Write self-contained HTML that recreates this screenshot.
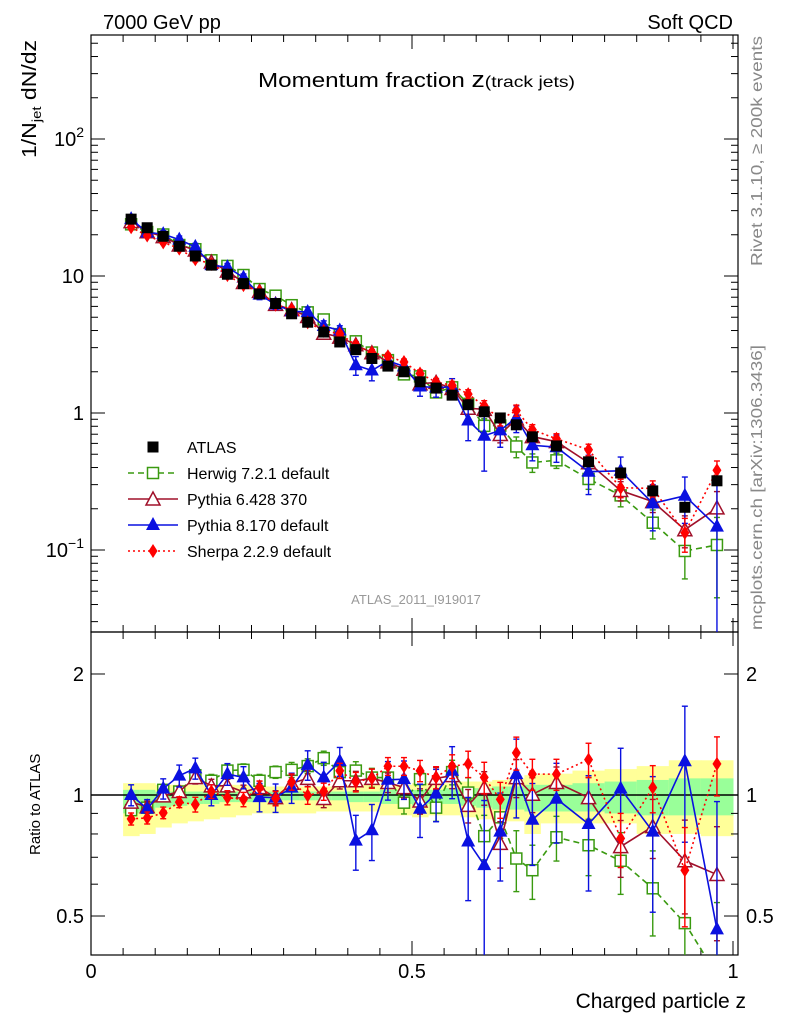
<!DOCTYPE html>
<html><head><meta charset="utf-8"><style>
html,body{margin:0;padding:0;background:#fff;width:786px;height:1024px;overflow:hidden}
svg{display:block;font-family:"Liberation Sans",sans-serif}
</style></head><body>
<svg id="c" width="786" height="1024" viewBox="0 0 786 1024" xmlns="http://www.w3.org/2000/svg">
<text x="103" y="29" font-size="20">7000 GeV pp</text>
<text x="733" y="29" font-size="20" text-anchor="end">Soft QCD</text>
<text x="258" y="87" font-size="20" textLength="317" lengthAdjust="spacingAndGlyphs">Momentum fraction <tspan font-size="22">z</tspan><tspan font-size="16">(track jets)</tspan></text>
<text transform="translate(36,158) rotate(-90)" font-size="20" textLength="118" lengthAdjust="spacingAndGlyphs">1/N<tspan font-size="13" dy="5">jet</tspan><tspan dy="-5"> dN/dz</tspan></text>
<text transform="translate(40,855) rotate(-90)" font-size="15">Ratio to ATLAS</text>
<text x="746" y="1008" font-size="21" text-anchor="end">Charged particle z</text>
<text transform="translate(762,266) rotate(-90)" font-size="16" fill="#888" textLength="230" lengthAdjust="spacingAndGlyphs">Rivet 3.1.10, ≥ 200k events</text>
<text transform="translate(762,630) rotate(-90)" font-size="16" fill="#888" textLength="285" lengthAdjust="spacingAndGlyphs">mcplots.cern.ch [arXiv:1306.3436]</text>
<text x="416" y="604" font-size="13" fill="#999" text-anchor="middle">ATLAS_2011_I919017</text>
<g id="g"></g>
</svg>
<script>
const zCenters=[0.0625,0.0875,0.1125,0.1375,0.1625,0.1875,0.2125,0.2375,0.2625,0.2875,0.3125,0.3375,0.3625,0.3875,0.4125,0.4375,0.4625,0.4875,0.5125,0.5375,0.5625,0.5875,0.6125,0.6375,0.6625,0.6875,0.725,0.775,0.825,0.875,0.925,0.975];
const zLo=[0.05,0.075,0.1,0.125,0.15,0.175,0.2,0.225,0.25,0.275,0.3,0.325,0.35,0.375,0.4,0.425,0.45,0.475,0.5,0.525,0.55,0.575,0.6,0.625,0.65,0.675,0.7,0.75,0.8,0.85,0.9,0.95];
const zHi=[0.075,0.1,0.125,0.15,0.175,0.2,0.225,0.25,0.275,0.3,0.325,0.35,0.375,0.4,0.425,0.45,0.475,0.5,0.525,0.55,0.575,0.6,0.625,0.65,0.675,0.7,0.75,0.8,0.85,0.9,0.95,1.0];
const atlas=[26,22.5,19.5,16.5,14,12,10.3,8.8,7.4,6.3,5.3,4.6,3.9,3.3,2.9,2.5,2.2,2.0,1.69,1.52,1.35,1.15,1.02,0.92,0.82,0.67,0.575,0.44,0.365,0.27,0.205,0.32];
const rHerwig=[0.917,0.93,1.03,1.02,1.12,1.085,1.15,1.155,1.085,1.14,1.155,1.18,1.235,1.14,1.15,1.105,1.105,0.957,1.095,0.93,1.14,1.014,0.79,0.88,0.695,0.65,0.785,0.75,0.686,0.586,0.48,0.34];
const rPy6=[0.96,0.935,0.995,1.02,1.105,1.054,1.054,1.018,1.043,0.985,1.07,1.1,0.98,1.085,1.085,1.1,1.074,1.043,0.966,1.1,1.117,0.942,1.043,0.758,1.105,1.004,1.074,0.985,0.744,0.835,0.686,0.634];
const rPy8=[1.0,0.924,1.037,1.117,1.165,1.0,1.127,1.106,0.988,0.985,1.043,1.188,1.106,1.213,0.770,0.817,1.091,1.095,0.924,1.008,1.149,0.766,0.669,0.811,1.127,0.868,0.979,0.847,1.037,0.811,1.213,0.463];
const rSherpa=[0.872,0.877,0.903,0.96,0.947,1.02,0.985,0.975,1.043,0.98,1.078,0.998,1.02,1.149,1.078,1.1,1.179,1.179,1.149,1.106,1.179,1.195,1.106,0.975,1.273,1.127,1.127,1.225,0.78,1.043,0.65,1.195];
const errPy8=[0.06,0.05,0.06,0.07,0.07,0.06,0.07,0.07,0.08,0.08,0.09,0.1,0.1,0.1,0.12,0.13,0.12,0.12,0.14,0.15,0.17,0.22,0.3,0.2,0.25,0.2,0.22,0.27,0.27,0.3,0.45,0.5];
const errMC=[0.03,0.03,0.03,0.03,0.04,0.04,0.04,0.04,0.04,0.04,0.05,0.05,0.05,0.05,0.06,0.06,0.06,0.06,0.07,0.07,0.08,0.09,0.1,0.1,0.12,0.1,0.1,0.12,0.12,0.14,0.18,0.2];
const yelLo=[0.79,0.80,0.83,0.85,0.86,0.87,0.88,0.89,0.90,0.90,0.90,0.90,0.91,0.91,0.91,0.91,0.89,0.89,0.88,0.89,0.89,0.88,0.87,0.86,0.86,0.80,0.85,0.85,0.85,0.80,0.80,0.79];
const yelHi=[1.07,1.07,1.06,1.06,1.06,1.06,1.06,1.06,1.05,1.05,1.05,1.05,1.05,1.05,1.06,1.06,1.06,1.06,1.07,1.07,1.07,1.08,1.08,1.09,1.10,1.12,1.13,1.15,1.16,1.18,1.22,1.22];
const grnLo=[0.90,0.91,0.93,0.94,0.95,0.95,0.96,0.96,0.96,0.97,0.97,0.97,0.97,0.97,0.96,0.96,0.95,0.95,0.94,0.95,0.95,0.94,0.93,0.92,0.92,0.91,0.91,0.91,0.90,0.89,0.89,0.89];
const grnHi=[1.03,1.03,1.02,1.02,1.02,1.02,1.02,1.02,1.02,1.02,1.02,1.02,1.02,1.02,1.02,1.02,1.03,1.03,1.03,1.03,1.04,1.04,1.04,1.05,1.05,1.06,1.06,1.07,1.08,1.09,1.10,1.10];

const NS='http://www.w3.org/2000/svg';
const G=document.getElementById('g');
const L=91,R=733,T=35,MID=632,B=955,FR=738;
const X=z=>L+(R-L)*z;
const YT=v=>413-137*Math.log10(v);
const YR=r=>795-402*Math.log10(r);
const clamp=(v,a,b)=>Math.min(Math.max(v,a),b);
function el(tag,at,parent){const e=document.createElementNS(NS,tag);for(const k in at)e.setAttribute(k,at[k]);(parent||G).appendChild(e);return e;}

const bands=el('g',{});


for(let i=0;i<zCenters.length;i++){
  const y=el('rect',{x:X(zLo[i]),y:YR(yelHi[i]),width:X(zHi[i])-X(zLo[i])+0.5,height:YR(yelLo[i])-YR(yelHi[i]),fill:'#ffff99'},bands);
  
  
  const g=el('rect',{x:X(zLo[i]),y:YR(grnHi[i]),width:X(zHi[i])-X(zLo[i])+0.5,height:YR(grnLo[i])-YR(grnHi[i]),fill:'#99ff99'},bands);
  
  
}
const one=el('line',{x1:L,x2:FR,y1:YR(1),y2:YR(1),stroke:'#000','stroke-width':1.5});



for(const [y0,y1,n] of [[T,MID,'main-frame'],[MID,B,'ratio-frame']]){
  const f=el('rect',{x:L,y:y0,width:FR-L,height:y1-y0,fill:'none',stroke:'#000','stroke-width':1.2});
  
  
}
for(let k=0;k<=20;k++){const z=k*0.05,x=X(z),len=(k%10==0)?14:7;
  for(const [ya,dir] of [[T,1],[MID,-1],[MID,1],[B,-1]]) el('line',{x1:x,x2:x,y1:ya,y2:ya+dir*len,stroke:'#000'});
}
const xLabels=['0','0.5','1'];const xLabelVals=[0,0.5,1];
xLabelVals.forEach((v,i)=>{const t=el('text',{x:X(v),y:978,'font-size':20,'text-anchor':'middle'});t.textContent=xLabels[i];

});
for(let d=-2;d<=2;d++)for(let m=1;m<=9;m++){const v=m*Math.pow(10,d),y=YT(v);if(y<T||y>MID)continue;const len=m==1?14:7;
  el('line',{x1:L,x2:L+len,y1:y,y2:y,stroke:'#000'});el('line',{x1:FR,x2:FR-len,y1:y,y2:y,stroke:'#000'});}
const yTickVals=[100,10,1,0.1];
const yTickTxt=[['10','2'],['10',''],['1',''],['10','−1']];
yTickVals.forEach((v,i)=>{const t=el('text',{x:84,y:YT(v)+7,'font-size':20,'text-anchor':'end'});


const a=el('tspan',{},t);a.textContent=yTickTxt[i][0];
if(yTickTxt[i][1]){const b=el('tspan',{'font-size':14,dy:-9},t);b.textContent=yTickTxt[i][1];}});
for(const v of [0.5,0.6,0.7,0.8,0.9,1,2]){const y=YR(v);if(y<MID||y>B)continue;const len=(v==0.5||v==1||v==2)?14:7;
  el('line',{x1:L,x2:L+len,y1:y,y2:y,stroke:'#000'});el('line',{x1:FR,x2:FR-len,y1:y,y2:y,stroke:'#000'});}
const rLabVals=[2,1,0.5],rLab=['2','1','0.5'];
rLabVals.forEach((v,i)=>{for(const [x,a] of [[84,'end'],[746,'start']]){const t=el('text',{x:x,y:YR(v)+7,'font-size':20,'text-anchor':a});t.textContent=rLab[i];

}});

function marker(p,type,col,x,y){
  if(type=='sq') return el('rect',{x:x-5.5,y:y-5.5,width:11,height:11,fill:'#000'},p);
  if(type=='osq') return el('rect',{x:x-5.5,y:y-5.5,width:11,height:11,fill:'#fff',stroke:col,'stroke-width':1.5},p);
  if(type=='otri') return el('path',{d:`M${x} ${y-7}L${x+7} ${y+6}L${x-7} ${y+6}Z`,fill:'#fff',stroke:col,'stroke-width':1.5},p);
  if(type=='tri') return el('path',{d:`M${x} ${y-8}L${x+7} ${y+5}L${x-7} ${y+5}Z`,fill:col},p);
  if(type=='dia') return el('path',{d:`M${x} ${y-7}L${x+4.5} ${y}L${x} ${y+7}L${x-4.5} ${y}Z`,fill:col},p);
}
const clipT=el('clipPath',{id:'ct'});el('rect',{x:L,y:T,width:FR-L,height:MID-T},clipT);
const clipR=el('clipPath',{id:'cr'});el('rect',{x:L,y:MID,width:FR-L,height:B-MID},clipR);
const series=[
 {name:'herwig',r:rHerwig,col:'#3a9a10',type:'osq',dash:'6,4',err:errMC},
 {name:'pythia6',r:rPy6,col:'#a0102a',type:'otri',dash:'',err:errMC},
 {name:'pythia8',r:rPy8,col:'#0a10e0',type:'tri',dash:'',err:errPy8},
 {name:'sherpa',r:rSherpa,col:'#ff0000',type:'dia',dash:'2,3',err:errMC}];
series.forEach(s=>{
  for(const [panel,fy,clip,y0,y1] of [['main',i=>YT(atlas[i]*s.r[i]),'ct',T,MID],['ratio',i=>YR(s.r[i]),'cr',MID,B]]){
    const g=el('g',{'clip-path':`url(#${clip})`});
    
    
    const pts=zCenters.map((z,i)=>X(z)+','+clamp(fy(i),y0,y1+20)).join(' ');
    const pl=el('polyline',{points:pts,fill:'none',stroke:s.col,'stroke-width':1.6,'stroke-dasharray':s.dash},g);
    
    
    zCenters.forEach((z,i)=>{
      const x=X(z),e=s.err[i];
      const upRaw=panel=='main'?YT(atlas[i]*(s.r[i]+e)):YR(s.r[i]+e);
      const dnRaw=panel=='main'?YT(atlas[i]*Math.max(s.r[i]-e,0.05)):YR(Math.max(s.r[i]-e,0.05));
      const up=clamp(upRaw,y0,y1),dn=clamp(dnRaw,y0,y1);
      el('line',{x1:x,x2:x,y1:up,y2:dn,stroke:s.col,'stroke-width':1.4},g);
      if(upRaw>=y0)el('line',{x1:x-3,x2:x+3,y1:up,y2:up,stroke:s.col,'stroke-width':1.4},g);
      if(dnRaw<=y1)el('line',{x1:x-3,x2:x+3,y1:dn,y2:dn,stroke:s.col,'stroke-width':1.4},g);
      const yv=fy(i);
      if(yv>=y0&&yv<=y1){
        const m=marker(g,s.type,s.col,x,yv);
        
        
      }
    });
  }
});
const ga=el('g',{});


zCenters.forEach((z,i)=>{const m=marker(ga,'sq','#000',X(z),YT(atlas[i]));

});
const legNames=['ATLAS','Herwig 7.2.1 default','Pythia 6.428 370','Pythia 8.170 default','Sherpa 2.2.9 default'];
const legTypes=['sq','osq','otri','tri','dia'];
const legCols=['#000','#3a9a10','#a0102a','#0a10e0','#ff0000'];
const legDash=[null,'6,4','','','2,3'];
legNames.forEach((n,i)=>{const y=447+i*26;const g=el('g',{});


if(legDash[i]!==null)el('line',{x1:128,x2:178,y1:y,y2:y,stroke:legCols[i],'stroke-width':1.6,'stroke-dasharray':legDash[i]},g);
marker(g,legTypes[i],legCols[i],153,y);
const t=el('text',{x:187,y:y+6,'font-size':16},g);t.textContent=n;});
</script>
</body></html>
